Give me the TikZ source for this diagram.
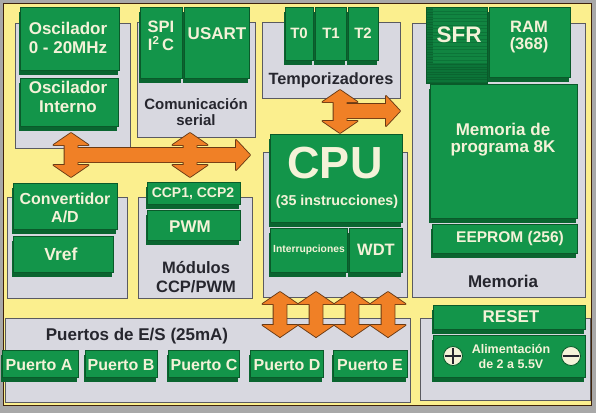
\documentclass[tikz,border=0pt]{standalone}
\usepackage{fontspec}
\setmainfont{Liberation Sans}
\usetikzlibrary{fit,shadows}
\definecolor{yel}{HTML}{FBEF8E}
\definecolor{gmain}{HTML}{13954A}
\definecolor{gdark}{HTML}{0A6530}
\definecolor{gedge}{HTML}{0A5A2A}
\definecolor{sfrc}{HTML}{0C7438}
\definecolor{sfrtop}{HTML}{118541}
\definecolor{pgray}{HTML}{D8D8E0}
\definecolor{pedge}{HTML}{5A5A60}
\definecolor{org}{HTML}{F08026}
\definecolor{orgedge}{HTML}{6A3A14}
\definecolor{cream}{HTML}{F4F2D8}
\definecolor{lbl}{HTML}{26262E}
\definecolor{bgout}{HTML}{A8A8A8}
\newcommand\fs[2]{\bfseries\fontsize{#1}{#2}\selectfont}
\tikzset{
  panel/.style={rectangle, fill=pgray, draw=pedge, line width=0.6pt, inner sep=0pt},
  gbox/.style={rectangle, fill=gmain, draw=gedge, line width=0.4pt, inner sep=0pt,
    drop shadow={shadow xshift=-1pt, shadow yshift=-5pt, fill=gdark, opacity=1}},
  wt/.style={text=cream, align=center, inner sep=0pt},
  dk/.style={text=lbl, align=center, inner sep=0pt},
  sign/.style={circle, fill=cream, draw=gedge, line width=0.8pt, minimum size=19pt, inner sep=0pt}
}
\newcommand\gb[5]{\node[gbox, fit={(#2,#3) (#4,#5-5)}] (#1) {};}
\newcommand\pn[5]{\node[panel, fit={(#2,#3) (#4,#5)}] (#1) {};}
\def\vdarrow#1#2#3{(#1,#2) -- (#1+17.5,#2+12) -- (#1+6.5,#2+12) -- (#1+6.5,#3-12) -- (#1+17.5,#3-12) -- (#1,#3) -- (#1-17.5,#3-12) -- (#1-6.5,#3-12) -- (#1-6.5,#2+12) -- (#1-17.5,#2+12) -- cycle}
\def\harrow#1#2#3{(#1,#3-7) -- (#2-14,#3-7) -- (#2-14,#3-15) -- (#2,#3) -- (#2-14,#3+15) -- (#2-14,#3+7) -- (#1,#3+7) -- cycle}
\begin{document}
\begin{tikzpicture}[x=1pt,y=-1pt]
\useasboundingbox (0,0) rectangle (596,413);
% background and board
\fill[bgout] (0,0) rectangle (596,413);
\fill[yel] (3,3) rectangle (591,405);
\draw[orgedge!60!black, line width=1pt] (3,3) rectangle (591,405);
% panels
\pn{posc}{15}{23}{130}{148}
\pn{pcom}{137}{22}{255}{137}
\pn{ptmr}{262}{22}{400}{98}
\pn{pmem}{412}{23}{585}{297}
\pn{pcpu}{263}{152}{407}{297}
\pn{pconv}{7}{197}{127}{298}
\pn{pccp}{138}{197}{252}{298}
\pn{pport}{5}{318}{410}{402}
\pn{preset}{420}{318}{590}{400}
% green boxes
\gb{osc1}{20}{7}{119}{75}
\gb{osc2}{20}{78}{118}{131}
\gb{spi}{140}{7}{182}{83}
\gb{usart}{184}{7}{249}{83}
\gb{t0}{285}{7}{313}{65}
\gb{t1}{315}{7}{346}{65}
\gb{t2}{348}{7}{378}{65}
\node[rectangle, fill=sfrc, draw=gedge, line width=0.4pt, inner sep=0pt,
  fit={(426,7) (487,83)}] (sfr) {};
\foreach \yy in {9.5,12,...,82} {\draw[gdark, line width=0.5pt] (426.5,\yy) -- (486.5,\yy);}
\fill[sfrtop] (433,8) rectangle (486.5,63);
\foreach \yy in {11,14.5,...,62} {\draw[sfrc, line width=0.3pt] (433,\yy) -- (486.5,\yy);}
\gb{ram}{489}{7}{570}{82}
\gb{prog}{430}{84}{577}{223}
\gb{eeprom}{432}{224}{577}{258}
\gb{cpu}{270}{134}{402}{227}
\gb{intr}{270}{228}{347}{277}
\gb{wdt}{349}{228}{402}{277}
\gb{conv}{13}{183}{117}{234}
\gb{vref}{13}{236}{113}{277}
\gb{ccp}{147}{182}{240}{209}
\gb{pwm}{147}{210}{240}{245}
\gb{pa}{2}{350}{78}{382}
\gb{pb}{85}{350}{157}{382}
\gb{pc}{168}{350}{239}{382}
\gb{pd}{250}{350}{323}{382}
\gb{pe}{333}{350}{407}{382}
\gb{reset}{433}{305}{585}{334}
\gb{alim}{433}{335}{585}{382}
% orange bus arrows: outline pass, then fill pass
\def\allarrows{\vdarrow{71}{133}{177} \vdarrow{190}{133}{177} \harrow{71}{250}{155}
  \vdarrow{340}{90}{133} \harrow{340}{400}{111}
  \vdarrow{280}{292}{337} \vdarrow{316}{292}{337} \vdarrow{352}{292}{337} \vdarrow{388}{292}{337}}
\draw[orgedge, line width=1.8pt, line join=round] \allarrows;
\fill[org] \allarrows;
% texts
\node[wt, font=\fs{17}{19}] (osc1t) at (68,38) {Oscilador\\0 - 20MHz};
\node[wt, font=\fs{17}{19}] (osc2t) at (68,97) {Oscilador\\Interno};
\node[wt, font=\fs{16.5}{18}] (spit) at (161,36) {SPI\\I\textsuperscript{2}\,C};
\node[wt, font=\fs{17}{19}] (usartt) at (217,34) {USART};
\node[dk, font=\fs{15}{15.5}] (comt) at (196,112) {Comunicación\\serial};
\node[wt, font=\fs{15}{17}] (t0t) at (299,33) {T0};
\node[wt, font=\fs{15}{17}] (t1t) at (331,33) {T1};
\node[wt, font=\fs{15}{17}] (t2t) at (363,33) {T2};
\node[dk, font=\fs{16.3}{18}] (tmrt) at (331,80) {Temporizadores};
\node[wt, font=\fs{22.5}{24}] (sfrt) at (459,35) {SFR};
\node[wt, font=\fs{16.5}{17}] (ramt) at (529,37) {RAM\\(368)};
\node[wt, font=\fs{17}{17}] (progt) at (503,140) {Memoria de\\programa 8K};
\node[wt, font=\fs{15.5}{17}] (eepromt) at (510,238) {EEPROM (256)};
\node[dk, font=\fs{17}{18}] (memt) at (503,281) {Memoria};
\node[wt, font=\fs{45}{46}] (cput) at (335,163) {CPU};
\node[wt, font=\fs{14.3}{16}] (cpu2t) at (337,202) {(35 instrucciones)};
\node[wt, font=\fs{10.3}{11}] (intrt) at (309,250) {Interrupciones};
\node[wt, font=\fs{16.5}{18}] (wdtt) at (376,250) {WDT};
\node[wt, font=\fs{16}{18}] (convt) at (65,208) {Convertidor\\A/D};
\node[wt, font=\fs{17.5}{19}] (vreft) at (61,254) {Vref};
\node[wt, font=\fs{14}{16}] (ccpt) at (193,194) {CCP1, CCP2};
\node[wt, font=\fs{17}{19}] (pwmt) at (190,227) {PWM};
\node[dk, font=\fs{16.5}{19}] (ccpl) at (196,277) {Módulos\\CCP/PWM};
\node[dk, font=\fs{17}{19}] (portl) at (137,336) {Puertos de E/S (25mA)};
\node[wt, font=\fs{16}{18}] (pat) at (39,365) {Puerto A};
\node[wt, font=\fs{16}{18}] (pbt) at (121,365) {Puerto B};
\node[wt, font=\fs{16}{18}] (pct) at (204,365) {Puerto C};
\node[wt, font=\fs{16}{18}] (pdt) at (287,365) {Puerto D};
\node[wt, font=\fs{16}{18}] (pet) at (370,365) {Puerto E};
\node[wt, font=\fs{17}{19}] (resett) at (511,317) {RESET};
\node[wt, font=\fs{12.5}{15}] (alimt) at (511,356) {Alimentación\\de 2 a 5.5V};
\node[sign] (plus) at (453,356) {};
\draw[lbl, line width=1.3pt] ([yshift=-1.5pt]plus.north) -- ([yshift=1.5pt]plus.south)
  ([xshift=1.5pt]plus.west) -- ([xshift=-1.5pt]plus.east);
\node[sign] (minus) at (571,356) {};
\draw[lbl, line width=1.3pt] ([xshift=1.5pt]minus.west) -- ([xshift=-1.5pt]minus.east);
\end{tikzpicture}
\end{document}
